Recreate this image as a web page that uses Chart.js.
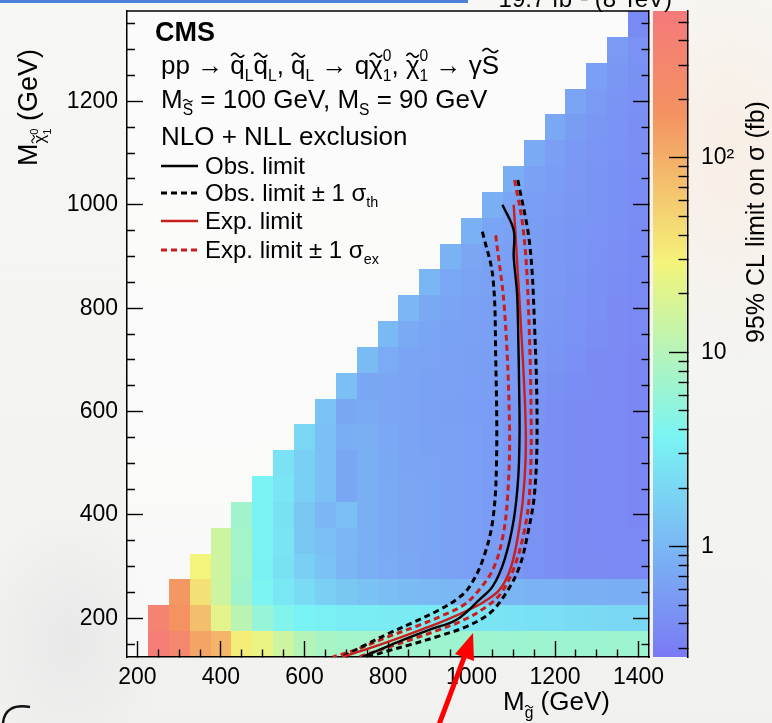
<!DOCTYPE html>
<html>
<head>
<meta charset="utf-8">
<script src="https://cdn.jsdelivr.net/npm/chart.js@4.4.1/dist/chart.umd.min.js"></script>
<style>
  html, body { margin: 0; padding: 0; width: 772px; height: 723px; overflow: hidden; }
  body {
    background:
      radial-gradient(ellipse 170px 300px at 730px 150px, rgba(250,232,214,0.55), rgba(250,232,214,0) 75%),
      radial-gradient(ellipse 120px 160px at 70px 640px, rgba(225,225,225,0.55), rgba(225,225,225,0) 80%),
      linear-gradient(#f7f7f6, #f1f1f0);
  }
  canvas { display: block; }
</style>
</head>
<body>
<canvas id="c" width="772" height="723"></canvas>
<script>
const FONT = '"Liberation Sans", Arial, Helvetica, sans-serif';

// ---- binning of the scan (GeV) ----
const squarkMass = [250, 300, 350, 400, 450, 500, 550, 600, 650, 700, 750, 800,
                    850, 900, 950, 1000, 1050, 1100, 1150, 1200, 1250, 1300, 1350, 1400];
const neutralinoMass = [150, 200, 250, 300, 350, 400, 450, 500, 550, 600, 650, 700, 750,
                        800, 850, 900, 950, 1000, 1050, 1100, 1150, 1200, 1250, 1300, 1350];
const HALF_BIN = 25;

// 95% CL upper limit on the cross section (fb); one row per neutralino mass,
// each row ends at the highest squark mass (1400 GeV)
const limitRows = [
  [480, 300, 120, 90, 32, 24, 15, 10, 8, 7.5, 7.2, 7.0, 7.0, 6.8, 6.8, 7.0, 6.8, 6.6, 6.8, 6.6, 6.6, 6.5, 6.8, 6.5],
  [360, 170, 75, 22, 11, 6, 4.2, 3.6, 3.3, 3.2, 3.1, 3.0, 3.0, 2.9, 2.8, 2.7, 2.6, 2.5, 2.4, 2.3, 2.2, 2.1, 2.0, 2.0],
  [150, 40, 15, 7, 3.8, 2.8, 2.2, 1.7, 1.4, 1.25, 1.15, 1.1, 1.05, 1.0, 1.0, 0.95, 0.95, 0.9, 0.9, 0.85, 0.85, 0.8, 0.8],
  [28, 15, 7.5, 3.5, 2.4, 1.7, 1.3, 0.95, 0.85, 0.78, 0.72, 0.68, 0.64, 0.6, 0.55, 0.5, 0.45, 0.42, 0.4, 0.4, 0.38, 0.38],
  [15, 7.5, 3.6, 2.6, 1.4, 1.2, 1.0, 0.84, 0.76, 0.7, 0.66, 0.62, 0.6, 0.56, 0.5, 0.45, 0.42, 0.4, 0.38, 0.37, 0.37],
  [7, 3.6, 2.4, 1.4, 1.0, 1.2, 0.84, 0.75, 0.7, 0.66, 0.62, 0.6, 0.56, 0.5, 0.45, 0.42, 0.4, 0.38, 0.37, 0.36],
  [3.6, 2.7, 1.7, 1.2, 0.71, 0.84, 0.76, 0.7, 0.66, 0.62, 0.6, 0.56, 0.5, 0.45, 0.42, 0.4, 0.38, 0.37, 0.36],
  [2.5, 1.7, 1.2, 0.71, 0.84, 0.74, 0.68, 0.65, 0.62, 0.6, 0.56, 0.5, 0.45, 0.42, 0.4, 0.38, 0.37, 0.36],
  [2.0, 1.2, 0.8, 0.84, 0.72, 0.68, 0.64, 0.62, 0.6, 0.56, 0.5, 0.45, 0.42, 0.4, 0.38, 0.37, 0.36],
  [1.3, 0.71, 0.75, 0.7, 0.66, 0.63, 0.61, 0.59, 0.56, 0.5, 0.46, 0.42, 0.4, 0.38, 0.37, 0.36],
  [1.2, 0.71, 0.7, 0.66, 0.64, 0.62, 0.6, 0.58, 0.54, 0.48, 0.44, 0.41, 0.39, 0.37, 0.36],
  [1.1, 0.78, 0.68, 0.65, 0.63, 0.61, 0.59, 0.56, 0.52, 0.47, 0.43, 0.4, 0.38, 0.36],
  [1.05, 0.76, 0.67, 0.64, 0.62, 0.6, 0.57, 0.53, 0.49, 0.45, 0.42, 0.39, 0.37],
  [1.0, 0.74, 0.66, 0.63, 0.61, 0.58, 0.54, 0.5, 0.46, 0.43, 0.4, 0.38],
  [0.95, 0.72, 0.65, 0.62, 0.59, 0.55, 0.51, 0.47, 0.44, 0.41, 0.38],
  [0.92, 0.7, 0.64, 0.6, 0.56, 0.52, 0.48, 0.45, 0.42, 0.39],
  [0.88, 0.68, 0.62, 0.57, 0.53, 0.49, 0.46, 0.43, 0.4],
  [0.84, 0.66, 0.59, 0.54, 0.5, 0.47, 0.44, 0.41],
  [0.8, 0.63, 0.56, 0.51, 0.47, 0.44, 0.41],
  [0.76, 0.6, 0.53, 0.48, 0.45, 0.42],
  [0.72, 0.57, 0.5, 0.46, 0.42],
  [0.66, 0.54, 0.47, 0.43],
  [0.6, 0.5, 0.44],
  [0.55, 0.45],
  [0.38]
];

// ---- exclusion contours (squark mass, neutralino mass) in GeV ----
const obsX    = [1074, 1101, 1101, 1109, 1112, 1114, 1115, 1112, 1101, 1079, 1051, 1019, 964, 900, 836, 780, 738];
const obsY    = [1000, 951, 900, 829, 740, 648, 559, 474, 390, 313, 262, 236, 197, 178, 158, 139, 125];
const obsDnX  = [1026, 1051, 1058, 1060, 1051, 1027, 996, 970, 920, 860, 800, 740, 690];
const obsDnY  = [948, 861, 700, 507, 390, 313, 262, 240, 215, 192, 170, 146, 125];
const obsUpX  = [1111, 1139, 1151, 1157, 1151, 1135, 1115, 1083, 1044, 988, 920, 850, 800, 752];
const obsUpY  = [1048, 926, 764, 572, 442, 365, 300, 249, 210, 184, 165, 148, 137, 125];
const expX    = [1101, 1109, 1123, 1130, 1127, 1115, 1095, 1067, 1030, 990, 940, 880, 820, 760, 690];
const expY    = [1000, 892, 700, 559, 468, 378, 300, 255, 232, 215, 197, 178, 160, 143, 125];
const expDnX  = [1058, 1079, 1091, 1087, 1075, 1051, 1012, 980, 930, 870, 800, 730, 668];
const expDnY  = [941, 797, 571, 442, 358, 294, 249, 225, 205, 185, 164, 141, 125];
const expUpX  = [1103, 1123, 1135, 1143, 1139, 1127, 1103, 1071, 1035, 980, 920, 860, 800, 730];
const expUpY  = [1048, 958, 829, 571, 442, 371, 300, 249, 222, 196, 177, 160, 144, 125];

// ---- axis ticks ----
const xTickValues = [200, 250, 300, 350, 400, 450, 500, 550, 600, 650, 700, 750, 800, 850, 900, 950,
                     1000, 1050, 1100, 1150, 1200, 1250, 1300, 1350, 1400];
const xLabelValues = [200, 400, 600, 800, 1000, 1200, 1400];
const yTickValues = [150, 200, 250, 300, 350, 400, 450, 500, 550, 600, 650, 700, 750, 800, 850, 900,
                     950, 1000, 1050, 1100, 1150, 1200, 1250, 1300, 1350];
const yLabelValues = [200, 400, 600, 800, 1000, 1200];
const zTickValues = [0.3, 0.4, 0.5, 0.6, 0.7, 0.8, 0.9, 1, 2, 3, 4, 5, 6, 7, 8, 9,
                     10, 20, 30, 40, 50, 60, 70, 80, 90, 100, 200, 300, 400, 500];
const zLabels = { 1: '1', 10: '10', 100: '10²' };
const Z_MIN = 0.27, Z_MAX = 570;

// colour palette (stops, r, g, b)
const palStops = [0.00, 0.34, 0.61, 0.84, 1.00];
const palRed   = [0.50, 0.50, 1.00, 1.00, 1.00];
const palGreen = [0.50, 1.00, 1.00, 0.60, 0.50];
const palBlue  = [1.00, 1.00, 0.50, 0.40, 0.50];
const TONE = 0.955;

function paletteColor(t) {
  t = Math.max(0, Math.min(1, t));
  let i = 0;
  while (i < palStops.length - 2 && t > palStops[i + 1]) i++;
  const f = (t - palStops[i]) / (palStops[i + 1] - palStops[i]);
  const c = (arr) => Math.round(255 * TONE * (arr[i] + f * (arr[i + 1] - arr[i])));
  return `rgb(${c(palRed)},${c(palGreen)},${c(palBlue)})`;
}
function colorForValue(zs, v) {
  const t = (zs.bottom - zs.getPixelForValue(v)) / (zs.bottom - zs.top);
  return paletteColor(t);
}

const MAJOR_X = new Set(xLabelValues), MAJOR_Y = new Set(yLabelValues);
const isDecade = (v) => Math.abs(Math.log10(v) - Math.round(Math.log10(v))) < 1e-9;

// ---- rich text helpers (sub/superscripts and tildes) ----
function drawTilde(ctx, cx, cy, w, fs) {
  ctx.save();
  ctx.lineWidth = Math.max(1.1, fs * 0.065);
  ctx.strokeStyle = ctx.fillStyle;
  ctx.lineCap = 'round';
  ctx.beginPath();
  const n = 14, amp = fs * 0.075;
  for (let i = 0; i <= n; i++) {
    const u = i / n;
    const px = cx - w / 2 + u * w;
    const py = cy - amp * Math.sin(u * 2 * Math.PI);
    if (i === 0) ctx.moveTo(px, py); else ctx.lineTo(px, py);
  }
  ctx.stroke();
  ctx.restore();
}
function drawRuns(ctx, x, y, size, runs, weight) {
  let cx = x;
  for (const r of runs) {
    const run = typeof r === 'string' ? { t: r } : r;
    const fs = size * (run.s || 1);
    ctx.font = `${weight || ''} ${fs}px ${FONT}`;
    const ry = y + (run.dy || 0) * size;
    ctx.fillText(run.t, cx, ry);
    const w = ctx.measureText(run.t).width;
    if (run.tilde) drawTilde(ctx, cx + w / 2, ry - (run.th || 0.72) * fs, Math.max(w * 0.85, fs * 0.42), fs);
    if (run.adv !== false) cx += w;
  }
  return cx;
}
function runsWidth(ctx, size, runs) {
  let w = 0;
  for (const r of runs) {
    const run = typeof r === 'string' ? { t: r } : r;
    ctx.font = `${size * (run.s || 1)}px ${FONT}`;
    if (run.adv !== false) w += ctx.measureText(run.t).width;
  }
  return w;
}

const sq = [{ t: 'q', tilde: true }, { t: 'L', s: 0.6, dy: 0.26 }];
const chi = [{ t: 'χ', tilde: true }, { t: '0', s: 0.6, dy: -0.5, adv: false }, { t: '1', s: 0.6, dy: 0.26 }];
const headerLines = [
  ['pp → ', ...sq, ...sq, ', ', ...sq, ' → q', ...chi, ', ', ...chi, ' → γ', { t: 'S', tilde: true, th: 0.9 }],
  ['M', { t: 'S', s: 0.6, dy: 0.26, tilde: true, th: 0.9 }, ' = 100 GeV, M', { t: 'S', s: 0.6, dy: 0.26 }, ' = 90 GeV'],
  ['NLO + NLL exclusion']
];
const legendEntries = [
  { dataset: 0, runs: ['Obs. limit'] },
  { dataset: 2, runs: ['Obs. limit ± 1 ', 'σ', { t: 'th', s: 0.6, dy: 0.26 }] },
  { dataset: 1, runs: ['Exp. limit'] },
  { dataset: 4, runs: ['Exp. limit ± 1 ', 'σ', { t: 'ex', s: 0.6, dy: 0.26 }] }
];

// ---- plugin: heatmap cells and colour bar ----
const heatmapPlugin = {
  id: 'heatmap',
  beforeDraw(chart) {
    const { ctx, chartArea: a } = chart;
    const xs = chart.scales.x, ys = chart.scales.y, zs = chart.scales.z;
    ctx.save();
    ctx.fillStyle = 'rgba(255,255,255,0.55)';
    ctx.fillRect(a.left, a.top, a.right - a.left, a.bottom - a.top);
    ctx.beginPath();
    ctx.rect(a.left, a.top, a.right - a.left, a.bottom - a.top);
    ctx.clip();
    limitRows.forEach((vals, r) => {
      const yc = neutralinoMass[r];
      const cols = squarkMass.slice(squarkMass.length - vals.length);
      vals.forEach((v, i) => {
        const xc = cols[i];
        const x0 = Math.round(xs.getPixelForValue(xc - HALF_BIN));
        const x1 = Math.round(xs.getPixelForValue(xc + HALF_BIN));
        const y0 = Math.round(ys.getPixelForValue(yc + HALF_BIN));
        const y1 = Math.round(ys.getPixelForValue(yc - HALF_BIN));
        ctx.fillStyle = colorForValue(zs, v);
        ctx.fillRect(x0, y0, x1 - x0, y1 - y0);
      });
    });
    ctx.restore();

    // colour bar
    const barLeft = a.right + 4, barRight = zs.left;
    ctx.save();
    for (let py = Math.floor(zs.top); py < Math.ceil(zs.bottom); py++) {
      ctx.fillStyle = colorForValue(zs, zs.getValueForPixel(py + 0.5));
      ctx.fillRect(barLeft, py, barRight - barLeft, 1);
    }
    ctx.restore();
  }
};

// ---- plugin: frame top, texts, legend, annotations ----
const annotationPlugin = {
  id: 'annotations',
  afterDraw(chart) {
    const { ctx, chartArea: a } = chart;
    ctx.save();
    ctx.fillStyle = '#000';
    ctx.textBaseline = 'alphabetic';
    ctx.textAlign = 'left';

    // top edge of the frame
    ctx.strokeStyle = '#000';
    ctx.lineWidth = 1.5;
    ctx.beginPath();
    ctx.moveTo(a.left, a.top);
    ctx.lineTo(a.right, a.top);
    ctx.stroke();

    // header
    ctx.font = `bold 27px ${FONT}`;
    ctx.fillText('CMS', 155, 41);
    const headerBase = [74, 108, 145];
    headerLines.forEach((runs, i) => drawRuns(ctx, 161, headerBase[i], 26, runs));

    // legend
    const legendY = [166, 193, 221, 250];
    legendEntries.forEach((e, i) => {
      const ds = chart.data.datasets[e.dataset];
      ctx.save();
      ctx.strokeStyle = ds.borderColor;
      ctx.lineWidth = ds.borderWidth;
      ctx.setLineDash(ds.borderDash || []);
      ctx.beginPath();
      ctx.moveTo(161, legendY[i]);
      ctx.lineTo(198, legendY[i]);
      ctx.stroke();
      ctx.restore();
      drawRuns(ctx, 205, legendY[i] + 8, 24, e.runs);
    });

    // x-axis title
    drawRuns(ctx, 503, 710, 26, ['M', { t: 'g', s: 0.6, dy: 0.3, tilde: true }, ' (GeV)']);

    // y-axis title (rotated)
    ctx.save();
    ctx.translate(37, 166);
    ctx.rotate(-Math.PI / 2);
    drawRuns(ctx, 0, 0, 27, ['M', { t: 'χ', s: 0.62, dy: 0.3, tilde: true },
      { t: '0', s: 0.42, dy: 0.05, adv: false }, { t: '1', s: 0.42, dy: 0.52 }, ' (GeV)']);
    ctx.restore();

    // colour-bar title (rotated)
    const zTitle = ['95% CL limit on σ (fb)'];
    ctx.save();
    ctx.translate(764, 222 + runsWidth(ctx, 25, zTitle) / 2);
    ctx.rotate(-Math.PI / 2);
    drawRuns(ctx, 0, 0, 25, zTitle);
    ctx.restore();

    // luminosity label along the top edge
    ctx.font = `24px ${FONT}`;
    ctx.textAlign = 'right';
    ctx.fillText('19.7 fb⁻¹ (8 TeV)', 672, 7);
    ctx.textAlign = 'left';

    // link underline at the top
    ctx.fillStyle = '#4f80d8';
    ctx.fillRect(0, 0, 468, 3);

    // red arrow pointing at the contour
    ctx.fillStyle = '#ff0000';
    ctx.strokeStyle = '#ff0000';
    ctx.lineWidth = 5;
    ctx.beginPath();
    ctx.moveTo(437, 730);
    ctx.lineTo(465, 655);
    ctx.stroke();
    ctx.beginPath();
    ctx.moveTo(473, 633);
    ctx.lineTo(474, 661);
    ctx.lineTo(455, 654);
    ctx.closePath();
    ctx.fill();

    // dark stroke in the lower-left corner
    ctx.strokeStyle = '#111';
    ctx.lineWidth = 2.5;
    ctx.beginPath();
    ctx.moveTo(3, 723);
    ctx.quadraticCurveTo(5, 703, 30, 707);
    ctx.stroke();
    ctx.restore();
  }
};

// ---- chart ----
const line = (label, xs, ys, color, width, dash) => ({
  label,
  data: xs.map((x, i) => ({ x, y: ys[i] })),
  showLine: true,
  borderColor: color,
  borderWidth: width,
  borderDash: dash,
  pointRadius: 0,
  tension: 0.35,
  fill: false
});

const RED = '#c81e1e';
const datasets = [
  line('Obs. limit', obsX, obsY, '#000000', 2.4, []),
  line('Exp. limit', expX, expY, RED, 2.4, []),
  line('Obs. limit - 1 σth', obsDnX, obsDnY, '#000000', 3, [6, 4]),
  line('Obs. limit + 1 σth', obsUpX, obsUpY, '#000000', 3, [6, 4]),
  line('Exp. limit - 1 σex', expDnX, expDnY, RED, 3, [6, 4]),
  line('Exp. limit + 1 σex', expUpX, expUpY, RED, 3, [6, 4])
];

const tickFont = { family: FONT, size: 23 };
const noVPad = (s, w) => { s.width = w; s.paddingTop = 0; s.paddingBottom = 0; };

new Chart(document.getElementById('c'), {
  type: 'scatter',
  data: { datasets },
  options: {
    responsive: false,
    animation: false,
    devicePixelRatio: 1,
    layout: { padding: { top: 11, left: 0, right: 0, bottom: 0 } },
    plugins: { legend: { display: false }, tooltip: { enabled: false }, title: { display: false } },
    scales: {
      x: {
        type: 'linear', position: 'bottom', min: 175, max: 1425,
        afterBuildTicks: (s) => { s.ticks = xTickValues.map((v) => ({ value: v })); },
        afterFit: (s) => { s.height = 66; s.paddingLeft = 0; s.paddingRight = 0; },
        ticks: {
          autoSkip: false, maxRotation: 0, minRotation: 0, padding: 23, color: '#000', font: tickFont,
          callback: (v) => (MAJOR_X.has(v) ? String(v) : '')
        },
        grid: {
          drawOnChartArea: false, tickLength: -16, tickWidth: 1.4, tickColor: '#000',
          tickBorderDash: (c) => (c.tick && MAJOR_X.has(c.tick.value) ? [] : [8, 100])
        },
        border: { display: true, color: '#000', width: 1.5 }
      },
      y: {
        type: 'linear', position: 'left', min: 125, max: 1375,
        afterBuildTicks: (s) => { s.ticks = yTickValues.map((v) => ({ value: v })); },
        afterFit: (s) => noVPad(s, 127),
        ticks: {
          autoSkip: false, padding: 25, color: '#000', font: tickFont,
          callback: (v) => (MAJOR_Y.has(v) ? String(v) : '')
        },
        grid: {
          drawOnChartArea: false, tickLength: -16, tickWidth: 1.4, tickColor: '#000',
          tickBorderDash: (c) => (c.tick && MAJOR_Y.has(c.tick.value) ? [] : [0, 8, 8, 100])
        },
        border: { display: true, color: '#000', width: 1.5 }
      },
      y2: {
        type: 'linear', position: 'right', min: 125, max: 1375,
        afterBuildTicks: (s) => { s.ticks = yTickValues.map((v) => ({ value: v })); },
        afterFit: (s) => noVPad(s, 39),
        ticks: { display: false },
        grid: {
          drawOnChartArea: false, tickLength: -16, tickWidth: 1.4, tickColor: '#000',
          tickBorderDash: (c) => (c.tick && MAJOR_Y.has(c.tick.value) ? [] : [8, 100])
        },
        border: { display: true, color: '#000', width: 1.5 }
      },
      z: {
        type: 'logarithmic', position: 'right', min: Z_MIN, max: Z_MAX,
        afterBuildTicks: (s) => { s.ticks = zTickValues.map((v) => ({ value: v })); },
        afterFit: (s) => noVPad(s, 84),
        ticks: {
          autoSkip: false, padding: 32, color: '#000', font: tickFont,
          callback: (v) => zLabels[v] || ''
        },
        grid: {
          drawOnChartArea: false, tickLength: -19, tickWidth: 1.4, tickColor: '#000',
          tickBorderDash: (c) => (c.tick && isDecade(c.tick.value) ? [] : [10, 100])
        },
        border: { display: true, color: '#000', width: 1.5 }
      }
    }
  },
  plugins: [heatmapPlugin, annotationPlugin]
});
</script>
</body>
</html>
